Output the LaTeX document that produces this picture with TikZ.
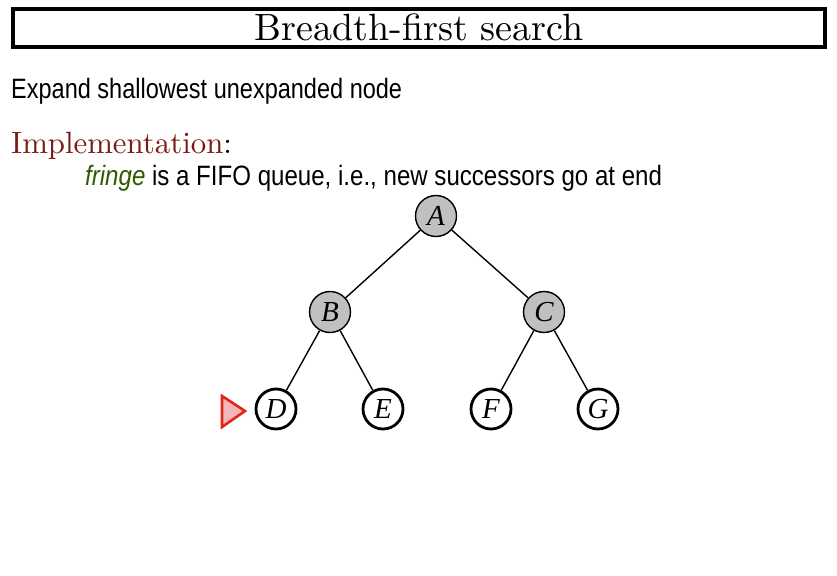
\documentclass[tikz,border=0pt]{standalone}
\usepackage{fontspec}
\usepackage{tikz}
\usepackage{xcolor}
\usetikzlibrary{positioning, calc}
\newfontfamily\slidefont{Liberation Sans}
\newfontfamily\letterfont{Liberation Serif}
\definecolor{ImplRed}{HTML}{7A1A12}
\definecolor{FringeGreen}{HTML}{2E5A00}
\definecolor{OpenGray}{HTML}{C0C0C0}
\definecolor{MarkRed}{HTML}{E0261A}
\definecolor{MarkPink}{HTML}{F2B8B8}
\tikzset{
  done/.style={circle, draw=black, line width=1.4pt, fill=OpenGray, minimum size=41pt, inner sep=0pt, font=\letterfont\itshape\fontsize{29}{29}\selectfont},
  todo/.style={circle, draw=black, line width=2.8pt, fill=white, minimum size=40pt, inner sep=0pt, font=\letterfont\itshape\fontsize{29}{29}\selectfont},
  edge/.style={line width=1.4pt}
}
\begin{document}
\begin{tikzpicture}[x=1pt, y=-1pt]
            \useasboundingbox (0,0) rectangle (837,575);
            % Title
            \node[draw, line width=4pt, minimum width=812pt, minimum height=38pt, inner sep=0pt] (title) at (419,28) {};
            \node (titletext) at (419,27) {\scalebox{3.8}{Breadth-first search}};

            % Text lines
            \node[anchor=west, inner sep=0pt, font=\slidefont\fontsize{28}{28}\selectfont, xscale=0.84] (expand) at (11,91) {Expand shallowest unexpanded node};
            \node[anchor=west, inner sep=0pt] (impl) at (11,146) {\scalebox{3.08}{\textcolor{ImplRed}{Implementation}:}};
            \node[anchor=west, inner sep=0pt, font=\slidefont\fontsize{28}{28}\selectfont, xscale=0.86] (fringe) at (85,178) {\textcolor{FringeGreen}{\itshape fringe} is a FIFO queue, i.e., new successors go at end};

            % Tree
            \node[done] (A) at (436,216) {A};
            \node[done] (B) at (330,312) {B};
            \node[done] (C) at (544,312) {C};
            \node[todo] (D) at (276,409) {D};
            \node[todo] (E) at (383,409) {E};
            \node[todo] (F) at (491,409) {F};
            \node[todo] (G) at (598,409) {G};

            \draw[edge] (A) -- (B);
            \draw[edge] (A) -- (C);
            \draw[edge] (B) -- (D);
            \draw[edge] (B) -- (E);
            \draw[edge] (C) -- (F);
            \draw[edge] (C) -- (G);

            % Next node marker
            \coordinate (mark) at (233,411);
            \draw[MarkRed, fill=MarkPink, line width=2.6pt, line join=miter]
              ($(mark)+(-11,-15)$) -- ($(mark)+(12,0)$) -- ($(mark)+(-11,16)$) -- cycle;
        \end{tikzpicture}
\end{document}
